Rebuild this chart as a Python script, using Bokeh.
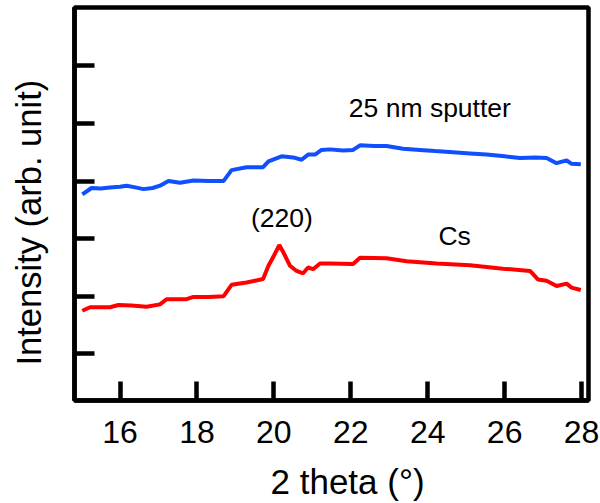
import math
from bokeh.plotting import figure
from bokeh.models import Range1d, Label, FixedTicker, Title, LinearAxis
from bokeh.embed import file_html
from bokeh.resources import INLINE

# Data
sputter_x = [15.02, 15.26, 15.5, 15.74, 16.0, 16.17, 16.4, 16.61, 16.85, 17.04, 17.26, 17.56,
             17.91, 18.3, 18.69, 18.90, 19.29, 19.72, 19.86, 20.20, 20.50, 20.72, 20.89, 21.07,
             21.24, 21.46, 21.8, 22.06, 22.24, 22.6, 22.93, 23.36, 23.80, 24.2, 24.66, 25.1,
             25.53, 26.0, 26.40, 26.8, 27.09, 27.35, 27.61, 27.74, 27.98]
sputter_y = [3.77, 3.88, 3.87, 3.89, 3.90, 3.92, 3.89, 3.86, 3.88, 3.92, 4.00, 3.97,
             4.01, 4.00, 4.00, 4.19, 4.24, 4.24, 4.34, 4.43, 4.41, 4.37, 4.46, 4.46,
             4.54, 4.55, 4.53, 4.54, 4.62, 4.61, 4.61, 4.56, 4.54, 4.52, 4.50, 4.48,
             4.46, 4.43, 4.40, 4.41, 4.40, 4.31, 4.36, 4.30, 4.29]

cs_x = [15.02, 15.22, 15.74, 15.96, 16.3, 16.69, 17.04, 17.21, 17.73, 17.91, 18.3, 18.69,
        18.90, 19.29, 19.72, 19.86, 19.99, 20.14, 20.25, 20.42, 20.59, 20.76, 20.89, 21.02,
        21.20, 21.46, 22.06, 22.24, 22.93, 23.45, 24.23, 25.10, 25.96, 26.66, 26.87, 27.09,
        27.35, 27.61, 27.74, 27.98]
cs_y = [1.75, 1.81, 1.81, 1.85, 1.84, 1.82, 1.86, 1.95, 1.95, 1.99, 1.99, 2.00,
        2.20, 2.24, 2.30, 2.53, 2.69, 2.89, 2.76, 2.53, 2.44, 2.40, 2.50, 2.47,
        2.57, 2.57, 2.56, 2.67, 2.66, 2.61, 2.57, 2.54, 2.48, 2.44, 2.29, 2.27,
        2.18, 2.22, 2.15, 2.11]

x_ticks = [16, 18, 20, 22, 24, 26, 28]
y_ticks = [1, 2, 3, 4, 5, 6]

FONT = "Liberation Sans"

p = figure(width=600, height=503, frame_width=514, frame_height=393,
           output_backend="svg", toolbar_location=None,
           x_range=Range1d(14.817, 28.18), y_range=Range1d(0.192, 7.012),
           min_border_left=74, min_border_right=12, min_border_top=7, min_border_bottom=0)
p.background_fill_color = "white"
p.border_fill_color = "white"
p.grid.visible = False
p.outline_line_color = "black"
p.outline_line_width = 4.5

p.line(sputter_x, sputter_y, line_color="#0F4FFF", line_width=4)
p.line(cs_x, cs_y, line_color="#FF0000", line_width=4)

xa = p.xaxis[0]
xa.ticker = FixedTicker(ticks=x_ticks)
xa.minor_tick_line_color = None
xa.major_tick_in = 19
xa.major_tick_out = 0
xa.major_tick_line_width = 4.5
xa.axis_line_width = 4.5
xa.major_label_text_font = FONT
xa.major_label_text_font_size = "32px"
xa.major_label_text_color = "black"
xa.major_label_standoff = 20

ya = p.yaxis[0]
ya.ticker = FixedTicker(ticks=y_ticks)
ya.minor_tick_line_color = None
ya.major_tick_in = 20
ya.major_tick_out = 0
ya.major_tick_line_width = 4.5
ya.axis_line_width = 4.5
ya.major_label_text_font_size = "0px"
ya.major_label_text_color = None

# practically invisible spacer axis so the y title sits at the reference position
spacer = LinearAxis(ticker=FixedTicker(ticks=[0.5]), axis_line_color=None,
                    major_tick_line_color="white", major_tick_line_width=0.01,
                    minor_tick_line_color=None,
                    major_tick_out=22, major_tick_in=0,
                    major_label_text_font_size="0px", major_label_text_color=None)
p.add_layout(spacer, "left")

xt = Title(text="2 theta (°)", align="left", offset=196, standoff=28,
           text_font=FONT, text_font_size="35px", text_font_style="normal",
           text_color="black")
p.add_layout(xt, "below")
yt = Title(text="Intensity (arb. unit)", align="left", offset=35, standoff=10,
           text_font=FONT, text_font_size="34.5px", text_font_style="normal",
           text_color="black")
p.add_layout(yt, "left")

p.add_layout(Label(x=21.95, y=5.275, text="25 nm sputter", text_font=FONT,
                   text_font_size="26.5px", text_align="left", text_baseline="alphabetic",
                   text_color="black"))
p.add_layout(Label(x=19.405, y=3.363, text="(220)", text_font=FONT,
                   text_font_size="26.5px", text_align="left", text_baseline="alphabetic",
                   text_color="black"))
p.add_layout(Label(x=24.279, y=3.050, text="Cs", text_font=FONT,
                   text_font_size="26.5px", text_align="left", text_baseline="alphabetic",
                   text_color="black"))

open("out.html", "w").write(file_html(p, INLINE))
